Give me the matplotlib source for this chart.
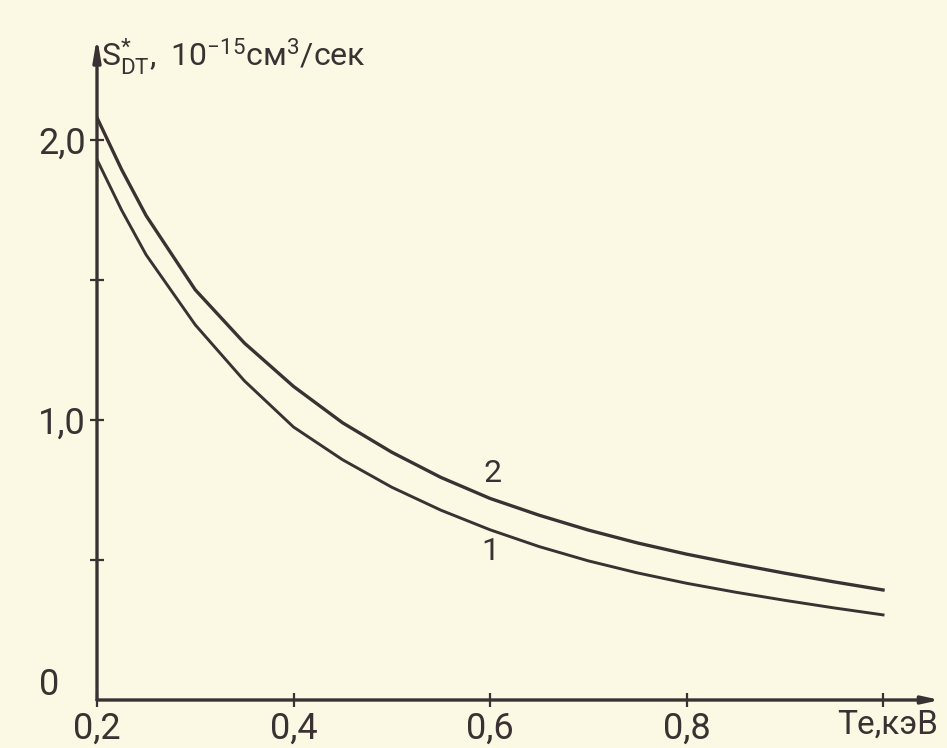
import numpy as np
import matplotlib
matplotlib.use("Agg")
import matplotlib.pyplot as plt

# ---------------------------
# Data
# ---------------------------
te = [0.2, 0.225, 0.25, 0.3, 0.35, 0.4, 0.45, 0.5, 0.55, 0.6, 0.65,
      0.7, 0.75, 0.8, 0.85, 0.9, 0.95, 1.0]
s_curve2 = [2.08, 1.895, 1.73, 1.465, 1.275, 1.12, 0.99, 0.885, 0.795, 0.72,
            0.66, 0.607, 0.561, 0.521, 0.486, 0.453, 0.422, 0.393]
s_curve1 = [1.93, 1.75, 1.59, 1.34, 1.14, 0.975, 0.858, 0.76, 0.678, 0.608,
            0.548, 0.497, 0.454, 0.417, 0.385, 0.356, 0.329, 0.304]

x_ticks = [0.2, 0.4, 0.6, 0.8, 1.0]
x_labels = ["0,2", "0,4", "0,6", "0,8", ""]
y_ticks = [0.5, 1.0, 1.5, 2.0]
y_labels = ["", "1,0", "", "2,0"]

bg = "#fbf9e4"
ink = "#3a3232"

plt.rcParams["font.family"] = ["Roboto", "DejaVu Sans"]
plt.rcParams["mathtext.fontset"] = "custom"
plt.rcParams["mathtext.rm"] = "Roboto"
plt.rcParams["mathtext.it"] = "Roboto"

fig = plt.figure(figsize=(9.47, 7.48), dpi=100, facecolor=bg)
ax = fig.add_axes([97/947, 48/748, 843/947, 663/748])
ax.set_facecolor(bg)
ax.set_xlim(0.2, 1.058)
ax.set_ylim(0, 2.368)

ax.plot(te, s_curve2, color=ink, lw=2.4, solid_joinstyle="round")
ax.plot(te, s_curve1, color=ink, lw=2.1, solid_joinstyle="round")

# axes with arrows
for s in ax.spines.values():
    s.set_visible(False)
ax.annotate("", xy=(1.058, 0), xytext=(0.2, 0),
            arrowprops=dict(arrowstyle="-|>,head_length=1.0,head_width=0.22",
                            lw=2.4, color=ink, shrinkA=0, shrinkB=0),
            annotation_clip=False)
ax.annotate("", xy=(0.2, 2.368), xytext=(0.2, 0),
            arrowprops=dict(arrowstyle="-|>,head_length=1.3,head_width=0.22",
                            lw=2.4, color=ink, shrinkA=0, shrinkB=0),
            annotation_clip=False)

ax.set_xticks(x_ticks)
ax.set_xticklabels(x_labels)
ax.set_yticks(y_ticks)
ax.set_yticklabels(y_labels)
ax.tick_params(direction="inout", length=10, width=1.6, colors=ink,
               labelsize=26, pad=3)

ax.text(0.162, 0.054, "0", ha="right", va="center", fontsize=26, color=ink)
ax.text(1.005, -0.03, "Te,кэВ", ha="center", va="top", fontsize=24, color=ink)

# curve numbers
ax.text(0.603, 0.81, "2", ha="center", va="center", fontsize=23, color=ink)
ax.text(0.600, 0.53, "1", ha="center", va="center", fontsize=23, color=ink)

# y-axis title
fig.text(101/947, 1 - 66/748,
         r"$\mathregular{S^{*}_{DT},\ 10^{-15}см^{3}/сек}$",
         ha="left", va="baseline", fontsize=23, color=ink)

fig.savefig("out.png", dpi=100, facecolor=bg)
